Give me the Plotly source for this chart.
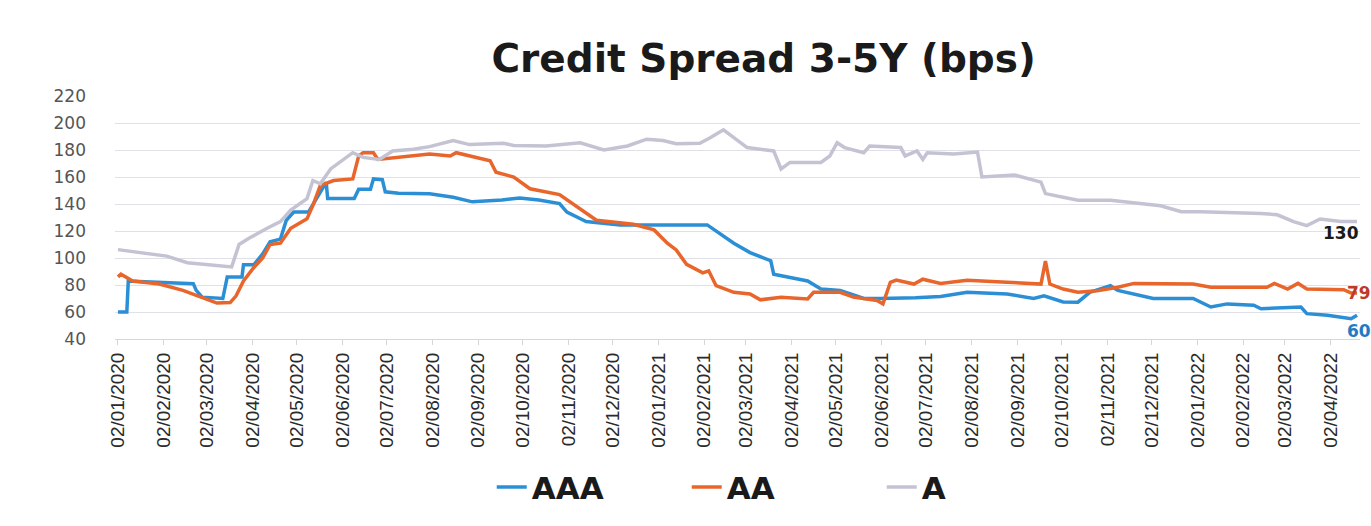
import plotly.graph_objects as go

# ---------------- data ----------------
aaa_dates = ["2020-01-02", "2020-01-08", "2020-01-09", "2020-02-01", "2020-02-22", "2020-02-24", "2020-02-28",
             "2020-03-13", "2020-03-16", "2020-03-26", "2020-03-27", "2020-04-03", "2020-04-09", "2020-04-14",
             "2020-04-21", "2020-04-25", "2020-04-30", "2020-05-10", "2020-05-18", "2020-05-22", "2020-05-23",
             "2020-06-10", "2020-06-13", "2020-06-21", "2020-06-23", "2020-06-29", "2020-07-01", "2020-07-10",
             "2020-07-31", "2020-08-16", "2020-08-29", "2020-09-18", "2020-09-30", "2020-10-13", "2020-10-27",
             "2020-11-01", "2020-11-14", "2020-12-07", "2021-02-04", "2021-02-13", "2021-02-22", "2021-03-05",
             "2021-03-19", "2021-03-21", "2021-04-13", "2021-04-22", "2021-05-05", "2021-05-12", "2021-05-21",
             "2021-06-01", "2021-06-25", "2021-07-12", "2021-07-30", "2021-08-26", "2021-09-13", "2021-09-20",
             "2021-10-03", "2021-10-13", "2021-10-21", "2021-11-04", "2021-11-09", "2021-12-03", "2021-12-30",
             "2022-01-11", "2022-01-22", "2022-02-09", "2022-02-14", "2022-03-13", "2022-03-17", "2022-03-31",
             "2022-04-16", "2022-04-20"]
aaa_values = [60, 60, 83, 82, 81, 76, 71,
              70, 86, 86, 95, 95, 103, 112,
              114, 128, 134, 134, 148, 156, 144,
              144, 151, 151, 158.6, 158, 149, 148,
              147.6, 145, 141.6, 143, 144.5, 143, 140.3,
              134, 127, 124.5, 124.5, 118, 111, 104,
              98, 88, 83, 77, 76, 73.4, 70,
              70, 70.5, 71.5, 74.6, 73.4, 70, 72,
              67.5, 67.3, 74.6, 79.5, 76, 70, 70,
              63.7, 66, 65, 62.4, 63.7, 58.8, 57.6,
              55, 57.6]

aa_dates = ["2020-01-02", "2020-01-04", "2020-01-12", "2020-01-30", "2020-02-15", "2020-02-27", "2020-03-09",
            "2020-03-18", "2020-03-22", "2020-03-27", "2020-04-03", "2020-04-09", "2020-04-14", "2020-04-21",
            "2020-04-28", "2020-05-09", "2020-05-13", "2020-05-18", "2020-05-27", "2020-06-09", "2020-06-13",
            "2020-06-16", "2020-06-23", "2020-06-26", "2020-07-11", "2020-07-31", "2020-08-14", "2020-08-18",
            "2020-09-10", "2020-09-14", "2020-09-26", "2020-10-07", "2020-10-27", "2020-11-10", "2020-11-21",
            "2020-12-16", "2020-12-30", "2021-01-08", "2021-01-14", "2021-01-21", "2021-02-01", "2021-02-05",
            "2021-02-10", "2021-02-22", "2021-03-05", "2021-03-12", "2021-03-26", "2021-04-13", "2021-04-17",
            "2021-05-05", "2021-05-14", "2021-05-30", "2021-06-03", "2021-06-08", "2021-06-12", "2021-06-24",
            "2021-06-30", "2021-07-12", "2021-07-30", "2021-08-26", "2021-09-18", "2021-09-21", "2021-09-24",
            "2021-10-03", "2021-10-13", "2021-10-26", "2021-11-09", "2021-11-20", "2021-12-30", "2022-01-11",
            "2022-02-18", "2022-02-23", "2022-03-04", "2022-03-11", "2022-03-17", "2022-04-11", "2022-04-16",
            "2022-04-20"]
aa_values = [86, 88, 83, 80.7, 76, 71, 66.6,
             67, 72, 83, 93, 100, 110, 111,
             122, 129, 139, 153.7, 157.4, 158.6, 175.6,
             178, 178, 173, 174.5, 177, 175.6, 178,
             172, 163.5, 160, 151.3, 147, 136.7, 128,
             125, 120.8, 111, 106, 95.3, 89, 90.5,
             79.5, 74.6, 73.4, 69, 71, 69.7, 74.6,
             74.6, 71, 68.5, 66, 82, 83.6, 80.7,
             84.3, 81.2, 83.6, 82, 80.7, 97.8, 80.7,
             77, 74.6, 75.8, 78.3, 81.2, 80.7, 78.3,
             78.3, 81.2, 77, 81.2, 77, 76.5, 74,
             74]

a_dates = ["2020-01-02", "2020-01-24", "2020-02-04", "2020-02-18", "2020-03-03", "2020-03-19", "2020-03-24",
           "2020-03-31", "2020-04-12", "2020-04-21", "2020-04-28", "2020-05-09", "2020-05-13", "2020-05-18",
           "2020-05-25", "2020-06-03", "2020-06-09", "2020-06-16", "2020-06-27", "2020-07-06", "2020-07-20",
           "2020-07-31", "2020-08-16", "2020-08-27", "2020-09-19", "2020-09-26", "2020-10-18", "2020-11-10",
           "2020-11-26", "2020-12-12", "2020-12-25", "2021-01-05", "2021-01-14", "2021-01-30", "2021-02-06",
           "2021-02-15", "2021-02-26", "2021-03-03", "2021-03-21", "2021-03-26", "2021-04-01", "2021-04-22",
           "2021-04-28", "2021-05-03", "2021-05-08", "2021-05-21", "2021-05-25", "2021-06-15", "2021-06-18",
           "2021-06-26", "2021-06-30", "2021-07-03", "2021-07-21", "2021-08-06", "2021-08-09", "2021-08-31",
           "2021-09-18", "2021-09-21", "2021-10-03", "2021-10-13", "2021-11-04", "2021-12-08", "2021-12-22",
           "2022-01-04", "2022-02-14", "2022-02-25", "2022-03-08", "2022-03-17", "2022-03-26", "2022-04-09",
           "2022-04-20"]
a_values = [106.2, 102.6, 101.4, 96.5, 95.3, 93.4, 110,
            114.8, 122, 127, 135.5, 144, 157.4, 155,
            166, 173, 178, 174.5, 173, 179.3, 180.5,
            182.5, 187, 184, 185, 183.4, 183, 185.4,
            180, 183, 188, 187, 184.6, 185, 189,
            195, 185.4, 181.8, 179.3, 166, 170.8, 170.8,
            175.6, 185.4, 181.8, 178, 183, 181.8, 175.6,
            179.3, 173, 178, 177, 178.5, 160, 161.5,
            156.2, 147.7, 145, 142.8, 142.8, 138.7, 134.3,
            134.3, 133, 132, 127, 124, 128.9, 127,
            127]

series_names = ["AAA", "AA", "A"]
series_colors = ["#2B8FD6", "#E8652B", "#C3C3D3"]
end_labels = ["60", "79", "130"]
label_colors = ["#1F7CC4", "#C0392B", "#1A1A1A"]

title_text = "Credit Spread 3-5Y (bps)"

# ---------------- figure ----------------
fig = go.Figure()
all_dates = [aaa_dates, aa_dates, a_dates]
all_values = [aaa_values, aa_values, a_values]
for name, color, d, v in zip(series_names, series_colors, all_dates, all_values):
    fig.add_trace(go.Scatter(x=d, y=v, name=name, mode="lines",
                             line=dict(color=color, width=3.5)))

# end-of-series value labels
label_offsets = [(-12, -16, "left"), (-12, 0, "left"), (4, -11, "right")]
for d, v, txt, col, (xs, ys, xa) in zip(all_dates, all_values, end_labels, label_colors, label_offsets):
    fig.add_annotation(x=d[-1], y=v[-1], text=f"<b>{txt}</b>", showarrow=False,
                       xanchor=xa, yanchor="middle", xshift=xs, yshift=ys,
                       font=dict(family="DejaVu Sans", size=17, color=col))

fig.update_layout(
    width=1371, height=526,
    paper_bgcolor="white", plot_bgcolor="white",
    margin=dict(l=115, r=11, t=96, b=185),
    title=dict(text=f"<b>{title_text}</b>", x=0.557, xanchor="center", y=0.89, yanchor="middle",
               font=dict(family="DejaVu Sans", size=39, color="#1A1A1A")),
    legend=dict(orientation="h", x=0.3026, xanchor="left", y=-0.61, yanchor="middle",
                font=dict(family="DejaVu Sans", size=31, color="#1A1A1A", weight="bold"),
                entrywidth=150, entrywidthmode="pixels", bgcolor="rgba(0,0,0,0)"),
    showlegend=True,
)

fig.update_yaxes(range=[40, 220], dtick=20, showgrid=True, gridcolor="#E0E0E8", gridwidth=1,
                 zeroline=False, ticks="", ticklabelstandoff=28,
                 tickfont=dict(family="DejaVu Sans", size=17, color="#555555"))
fig.update_xaxes(type="date", range=["2019-12-31", "2022-04-22"], tick0="2020-01-02", dtick="M1",
                 tickformat="%d/%m/%Y", tickangle=-90, showgrid=False, showline=True,
                 linecolor="#D5D5DD", linewidth=1, ticks="outside", ticklen=5, tickcolor="#D5D5DD",
                 tickfont=dict(family="Liberation Sans", size=19, color="#2A2A2A"))

fig.write_html("out.html", config={"displayModeBar": False},
               post_script="document.body.style.margin='0px';")
